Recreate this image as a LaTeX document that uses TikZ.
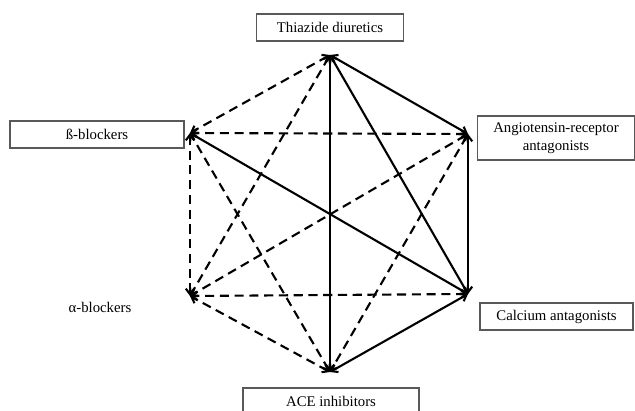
\documentclass[tikz,border=0pt]{standalone}
\usepackage{fontspec}
\setmainfont{Liberation Serif}
\usepackage{tikz}
\usetikzlibrary{arrows.meta, positioning, calc}

\begin{document}
\begin{tikzpicture}[x=0.025cm, y=-0.025cm, >={Straight Barb[length=4pt,width=6pt]}]
            % Blocks
            \tikzstyle{drug} = [rectangle, draw=black!65, line width=0.8pt, text centered, align=center, minimum height=0.675cm, inner sep=1pt, font=\fontsize{10.5}{12.5}\selectfont]
            \tikzstyle{good} = [<->, line width=1.5pt]
            \tikzstyle{fair} = [<->, line width=1.5pt, dash pattern=on 6.5pt off 4pt]

            \useasboundingbox (0,0) rectangle (635,411);

            \node[drug, minimum width=3.675cm] (thz-box) at (330,27.5) {Thiazide diuretics};
            \node[drug, minimum width=4.35cm] (beta-box) at (97,134.5) {ß-blockers};
            \node[drug, minimum width=3.925cm, minimum height=1.1cm] (arb-box) at (556,138) {Angiotensin-receptor\\antagonists};
            \node[drug, draw=none] (alpha-box) at (100,307) {α-blockers};
            \node[drug, minimum width=3.825cm] (calc-box) at (556.5,316.5) {Calcium antagonists};
            \node[drug, minimum width=4.4cm] (ace-box) at (331,401.5) {ACE inhibitors};

            % Corners of the hexagon
            \coordinate (thz) at (330,55);
            \coordinate (beta) at (190,133);
            \coordinate (arb) at (468,134);
            \coordinate (alpha) at (190,296);
            \coordinate (calc) at (468,294);
            \coordinate (ace) at (330,372);

            % Lines
            \draw[good] (thz) -- (arb);
            \draw[good] (thz) -- (calc);
            \draw[good] (thz) -- (ace);
            \draw[good] (calc) -- (beta);
            \draw[good] (arb) -- (calc);
            \draw[good] (calc) -- (ace);

            \draw[fair] (thz) -- (beta);
            \draw[fair] (thz) -- (alpha);
            \draw[fair] (arb) -- (beta);
            \draw[fair] (beta) -- (alpha);
            \draw[fair] (ace) -- (beta);
            \draw[fair] (arb) -- (alpha);
            \draw[fair] (arb) -- (ace);
            \draw[fair] (calc) -- (alpha);
            \draw[fair] (ace) -- (alpha);
        \end{tikzpicture}
\end{document}
